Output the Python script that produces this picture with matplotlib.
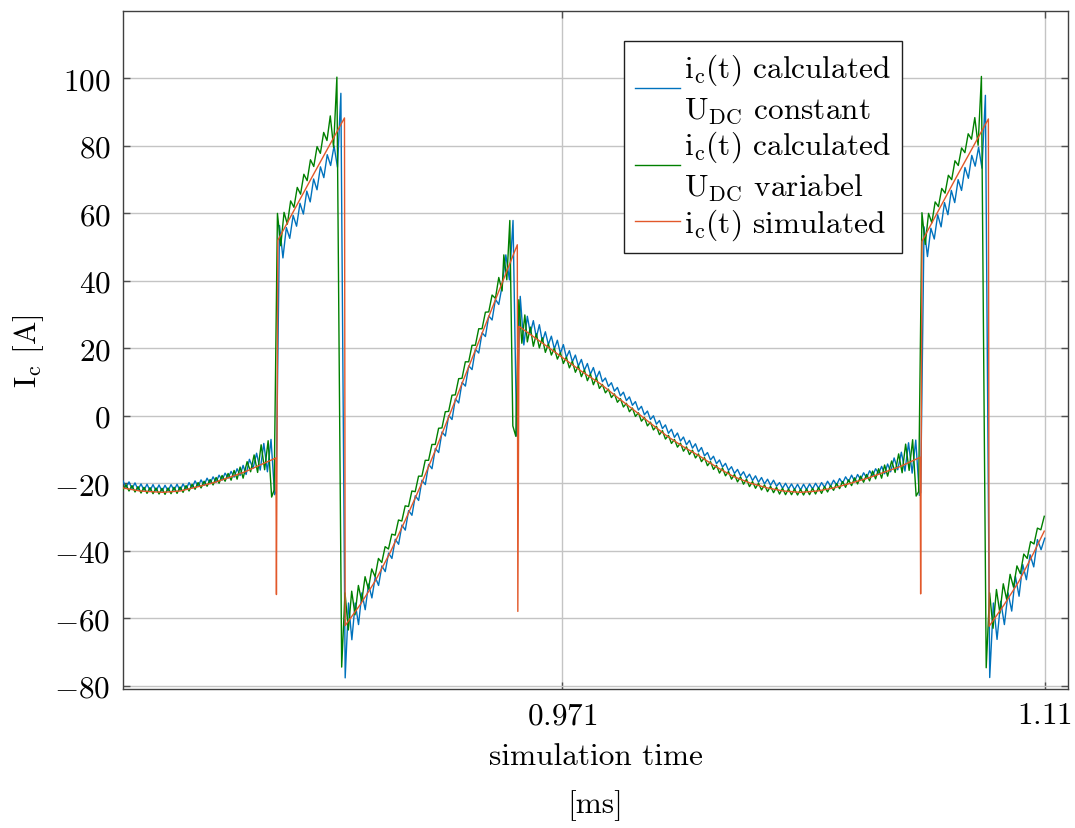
import numpy as np
import matplotlib
matplotlib.use("Agg")
import matplotlib.pyplot as plt

plt.rcParams["font.family"] = "serif"
plt.rcParams["font.serif"] = ["cmr10"]
plt.rcParams["mathtext.fontset"] = "cm"
plt.rcParams["axes.unicode_minus"] = False

# ---------------- data: i_c(t) calculated, U_DC constant (blue) ----------------
# each segment: (t_start, t_end) in ms and sampled current values in A
blue_win_A = (0.84440, 0.87987)
blue_A = [-19.3, -21.3, -19.6, -21.6, -19.9, -21.9, -20.2, -22.1, -20.3, -22.2,
          -20.4, -22.3, -20.5, -22.4, -20.6, -22.3, -20.4, -22.1, -20.3, -22.2,
          -20.2, -21.8, -19.8, -21.4, -19.3, -20.9, -19.0, -20.6, -18.5, -20.1,
          -18.1, -19.7, -17.6, -19.1, -17.0, -18.5, -16.5, -18.2, -15.7, -17.7,
          -14.7, -17.4]
blue_win_A2 = (0.88082, 0.88809)
blue_A2 = [-12.9, -15.6, -11.1, -16.1, -8.2, -16.6, -7.0, -23.4]
blue_win_B = (0.88852, 0.90718)
blue_B = [-22.5, 56.4, 46.8, 55.8, 52.6, 59.4, 56.2, 63.0, 59.8, 66.6,
          63.4, 70.2, 67.0, 73.8, 70.6, 77.4, 74.2, 80.0, 73.7, 95.6]
blue_win_C = (0.90842, 0.95364)
blue_C = [-77.7, -55.5, -66.4, -55.5, -61.9, -52.5, -57.5, -49.9, -54.0, -47.8,
          -50.3, -44.5, -46.2, -40.7, -42.3, -36.6, -38.1, -32.4, -33.9, -28.1,
          -29.5, -23.7, -25.1, -19.1, -20.4, -14.4, -15.7, -9.7, -10.9, -4.8,
          -6.0, 0.1, -1.1, 5.0, 3.8, 9.9, 8.8, 14.8, 13.7, 19.7,
          18.6, 24.6, 23.5, 29.6, 28.4, 34.5, 33.0, 38.5]
blue_win_C2 = (0.95471, 0.95990)
blue_C2 = [47.7, 40.3, 57.9, -6.0, 35.4, 21.0]
blue_win_D = (0.96091, 1.06559)
blue_D = [29.5, 24.5, 28.2, 23.2, 27.0, 22.0, 24.9, 21.1, 23.6, 19.8,
          22.4, 18.5, 21.1, 17.3, 19.3, 16.0, 18.0, 14.7, 16.7, 13.5,
          15.5, 12.3, 14.3, 11.2, 13.2, 10.1, 11.2, 8.7, 9.8, 7.3,
          8.4, 5.9, 7.0, 4.5, 5.6, 3.1, 4.2, 1.7, 2.8, 0.3,
          1.4, -1.1, 0.0, -2.5, -1.4, -3.8, -2.7, -5.2, -4.0, -6.4,
          -5.1, -7.5, -6.3, -8.6, -7.3, -9.6, -8.3, -10.7, -9.4, -11.9,
          -10.9, -13.1, -12.0, -14.2, -13.1, -15.2, -14.1, -16.2, -15.1, -17.1,
          -15.9, -17.8, -16.6, -18.5, -17.3, -19.2, -17.8, -19.7, -18.3, -20.2,
          -18.8, -20.6, -19.1, -20.9, -19.8, -21.5, -20.0, -21.7, -20.2, -21.9,
          -20.3, -22.0, -20.3, -21.9, -20.2, -21.7, -20.0, -21.5, -19.8, -21.2,
          -19.4, -20.9, -19.1, -20.5, -18.6, -20.0, -18.1, -19.5, -17.6, -19.4,
          -17.4, -18.9, -16.9, -18.4, -16.3, -17.8, -15.7, -17.1, -15.0, -17.2,
          -14.3, -16.6]
blue_win_D2 = (1.06660, 1.07387)
blue_D2 = [-12.5, -16.0, -10.8, -16.4, -8.0, -17.0, -7.2, -23.6]
blue_win_E = (1.07424, 1.09290)
blue_E = [-22.8, 56.0, 47.2, 55.6, 52.4, 59.6, 56.0, 63.2, 59.6, 66.8,
          63.2, 70.0, 66.8, 73.6, 70.4, 77.2, 74.0, 79.6, 73.4, 95.0]
blue_win_F = (1.09414, 1.11000)
blue_F = [-77.6, -55.5, -66.3, -55.0, -61.9, -52.5, -57.9, -47.6, -53.5, -44.1,
          -48.6, -41.2, -44.8, -36.7, -39.7, -36.3]

# ---------------- data: i_c(t) calculated, U_DC variabel (green) ----------------
green_win_A = (0.84440, 0.87901)
green_A = [-22.0, -20.4, -22.3, -20.7, -22.6, -21.0, -22.9, -21.2, -23.0, -21.3,
           -23.1, -21.4, -23.2, -21.5, -23.3, -21.4, -23.1, -21.2, -23.0, -21.1,
           -22.7, -20.7, -22.3, -20.3, -21.8, -19.8, -21.4, -19.4, -20.9, -18.9,
           -20.5, -18.3, -20.0, -17.7, -19.4, -17.1, -19.1, -16.2, -18.8, -15.2,
           -18.5]
green_win_A2 = (0.88016, 0.88723)
green_A2 = [-13.6, -16.6, -11.6, -16.8, -8.6, -16.0, -7.4, -24.1]
green_win_B = (0.88795, 0.90603)
green_B = [-22.0, 60.0, 50.4, 60.3, 56.8, 63.7, 61.8, 67.7, 65.7, 71.6,
           69.7, 75.9, 73.9, 79.8, 77.8, 84.0, 81.6, 88.9, 79.6, 100.4]
green_win_C = (0.90741, 0.95364)
green_C = [-74.5, -52.5, -63.5, -52.0, -59.0, -50.3, -55.0, -47.7, -51.4, -45.4,
           -47.7, -42.3, -43.5, -38.8, -39.5, -35.1, -35.4, -30.9, -31.2, -26.7,
           -26.9, -22.3, -22.5, -17.9, -17.9, -13.2, -13.2, -8.5, -8.5, -3.7,
           -3.6, 1.2, 1.3, 6.1, 6.2, 11.0, 11.1, 16.0, 16.0, 20.9,
           20.9, 25.8, 25.8, 30.7, 30.8, 35.8, 34.8, 41.0, 37.0]
green_win_C2 = (0.95413, 0.96019)
green_C2 = [47.7, 40.3, 57.9, -3.0, -6.1, 34.4, 21.5, 29.9]
green_win_D = (0.96091, 1.06472)
green_D = [21.9, 26.3, 20.6, 24.3, 20.1, 23.1, 18.8, 21.3, 18.0, 20.0,
           16.8, 18.7, 15.5, 17.4, 14.2, 16.1, 12.9, 14.8, 11.6, 13.6,
           10.4, 12.4, 9.2, 11.3, 8.1,
           9.3, 6.8, 7.9, 5.4, 6.5, 4.0, 5.1, 2.6, 3.7, 1.2,
           2.3, -0.2, 0.9, -1.6, -0.5, -3.0, -1.9,
           -4.2, -3.1, -5.6, -4.4, -6.9, -5.8, -8.2, -7.0, -9.3, -8.1,
           -10.5, -9.2, -11.5, -10.2, -12.5, -11.3, -13.6, -12.4, -14.8, -13.6,
           -15.9, -14.7, -17.0,
           -15.5, -17.8, -16.5, -18.8, -17.4, -19.6, -18.1, -20.3, -18.8, -21.0,
           -19.5, -21.5, -20.0, -22.0, -20.5, -22.5, -20.9, -22.8, -21.2, -23.2,
           -21.5, -23.4, -21.7,
           -23.4, -21.7, -23.5, -21.8, -23.5, -21.7, -23.4, -21.5, -23.2, -21.3,
           -23.0, -21.0, -22.6, -20.7,
           -22.1, -20.1, -21.6, -19.5, -21.2, -19.0, -20.7, -18.4, -20.2, -17.9,
           -19.7, -17.4,
           -19.3, -16.4, -18.7, -15.7, -18.5, -14.6, -17.9]
green_win_D2 = (1.06588, 1.07294)
green_D2 = [-13.4, -16.8, -11.3, -16.9, -8.4, -16.2, -7.1, -23.8]
green_win_E = (1.07366, 1.09175)
green_E = [-22.5, 60.2, 50.8, 60.0, 57.2, 63.4, 62.0, 67.4, 66.0, 71.3,
           70.0, 75.6, 74.2, 79.4, 78.0, 83.6, 82.0, 88.4, 80.2, 100.6]
green_win_F = (1.09313, 1.10986)
green_F = [-74.7, -52.5, -63.0, -51.5, -58.5, -49.8, -54.5, -47.0, -50.8, -44.5,
           -46.8, -41.0, -42.3, -37.3, -38.0, -33.3, -33.8, -29.8]

# ---------------- data: i_c(t) simulated (orange) ----------------
orange_t = [0.84440, 0.84930, 0.85594, 0.86084, 0.86574, 0.87064, 0.87526, 0.87958,
            0.88391, 0.88847, 0.88861, 0.88901, 0.89862, 0.90822, 0.90842, 0.91275,
            0.91707, 0.92140, 0.92572, 0.93005, 0.93438, 0.93870, 0.94303, 0.94735,
            0.95168, 0.95600, 0.95802, 0.95817, 0.95851, 0.96466, 0.97100, 0.97648,
            0.98196, 0.98657, 0.99148, 0.99638, 1.00128, 1.00589, 1.01080, 1.01541,
            1.02031, 1.02522, 1.03012, 1.03473, 1.03963, 1.04454, 1.04915, 1.05405,
            1.05896, 1.06357, 1.06847, 1.07410, 1.07424, 1.07462, 1.08419, 1.09376,
            1.09397, 1.09818, 1.10250, 1.10683, 1.10986]
orange_i = [-21.4, -22.3, -22.7, -22.3, -21.1, -19.8, -18.2, -16.6,
            -14.6, -12.5, -53.0, 52.0, 70.3, 88.3, -62.2, -56.0,
            -49.0, -40.5, -31.0, -21.0, -10.3, 0.8, 12.0, 23.1,
            34.3, 45.5, 50.7, -58.0, 26.5, 22.0, 17.3, 13.2,
            9.5, 5.7, 1.8, -2.2, -6.1, -9.2, -12.1, -15.2,
            -18.0, -20.0, -21.4, -22.3, -22.7, -22.3, -21.4, -20.0,
            -18.5, -16.8, -15.0, -12.3, -52.8, 51.7, 70.1, 88.0,
            -62.4, -56.2, -49.2, -40.6, -34.2]

x_ticks = [0.971, 1.11]
x_tick_labels = ["$0.971$", "$1.11$"]
y_ticks = [-80, -60, -40, -20, 0, 20, 40, 60, 80, 100]
y_tick_labels = ["$%d$" % v for v in y_ticks]

labels = [r"$\mathrm{i_c}$(t) calculated" + "\n" + r"$\mathrm{U_{DC}}$ constant",
          r"$\mathrm{i_c}$(t) calculated" + "\n" + r"$\mathrm{U_{DC}}$ variabel",
          r"$\mathrm{i_c}$(t) simulated"]


def build(segments):
    ts, vs = [], []
    for (t0, t1), vals in segments:
        ts.append(np.linspace(t0, t1, len(vals)))
        vs.append(np.asarray(vals, dtype=float))
    return np.concatenate(ts), np.concatenate(vs)


blue_t, blue_i = build([(blue_win_A, blue_A), (blue_win_A2, blue_A2),
                        (blue_win_B, blue_B), (blue_win_C, blue_C),
                        (blue_win_C2, blue_C2), (blue_win_D, blue_D),
                        (blue_win_D2, blue_D2), (blue_win_E, blue_E),
                        (blue_win_F, blue_F)])
green_t, green_i = build([(green_win_A, green_A), (green_win_A2, green_A2),
                          (green_win_B, green_B), (green_win_C, green_C),
                          (green_win_C2, green_C2), (green_win_D, green_D),
                          (green_win_D2, green_D2), (green_win_E, green_E),
                          (green_win_F, green_F)])

FS = 22.5
fig = plt.figure(figsize=(10.75, 8.29), dpi=100)
ax = fig.add_axes([123 / 1075, 1 - 690 / 829, 945 / 1075, 678 / 829])

c_blue = "#0072BD"
c_green = "#008000"
c_orange = "#E2582A"

ax.plot(blue_t, blue_i, color=c_blue, lw=1.0, label=labels[0], zorder=3)
ax.plot(green_t, green_i, color=c_green, lw=1.0, label=labels[1], zorder=4)
ax.plot(orange_t, orange_i, color=c_orange, lw=1.0, label=labels[2], zorder=5)

ax.set_xlim(0.8444, 1.1167)
ax.set_ylim(-81, 120)
ax.set_xticks(x_ticks)
ax.set_xticklabels(x_tick_labels, fontsize=FS)
ax.set_yticks(y_ticks)
ax.set_yticklabels(y_tick_labels, fontsize=FS)
ax.grid(True, color="#c4c4c4", lw=1.0)
ax.set_axisbelow(True)
ax.tick_params(direction="in", length=5, width=1.0, color="#505050",
               top=True, right=True, pad=9)
for s in ax.spines.values():
    s.set_color("#404040")
    s.set_linewidth(1.0)

ax.set_xlabel("simulation time\n[ms]", fontsize=FS, linespacing=1.85, labelpad=9)
ax.set_ylabel(r"$\mathrm{I_c}$ [A]", fontsize=FS, labelpad=6)

leg = ax.legend(loc="upper left", bbox_to_anchor=(0.530, 0.956), fontsize=FS,
                frameon=True, fancybox=False, shadow=False, framealpha=1.0,
                edgecolor="#202020", handlelength=1.45, handletextpad=0.12,
                labelspacing=0.12, borderpad=0.35, borderaxespad=0.0)
leg.get_frame().set_linewidth(1.0)
for txt in leg.get_texts():
    txt.set_linespacing(1.34)

fig.savefig("out.png", dpi=100)
